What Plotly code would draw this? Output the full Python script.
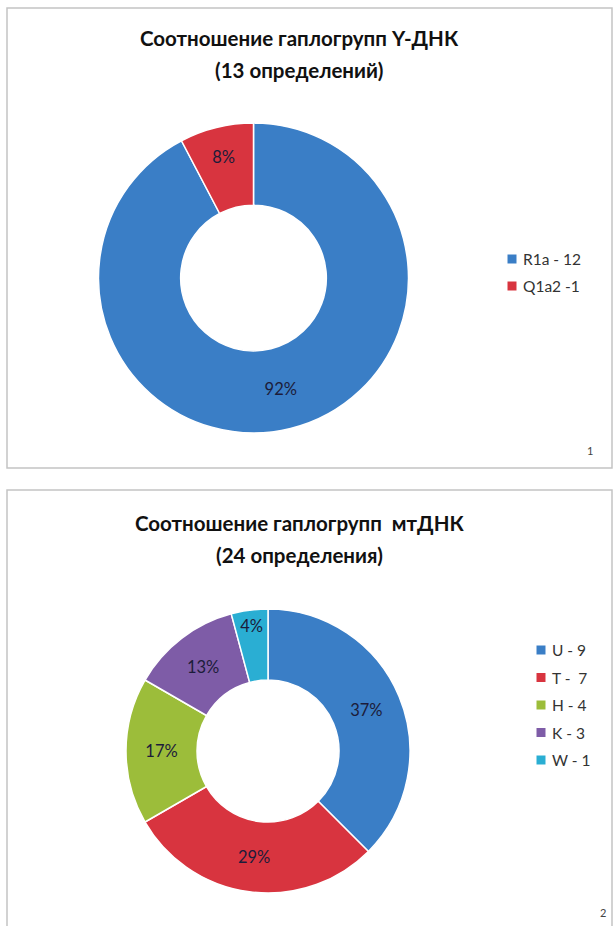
import plotly.graph_objects as go

# Y-DNA haplogroups (13 samples)
y_labels = ["R1a - 12", "Q1a2 -1"]
y_counts = [12, 1]
y_pct_text = ["92%", "8%"]
y_colors = ["#3A7EC6", "#D8343F"]

# mtDNA haplogroups (24 samples)
mt_labels = ["U - 9", "T -  7", "H - 4", "K - 3", "W - 1"]
mt_counts = [9, 7, 4, 3, 1]
mt_pct_text = ["37%", "29%", "17%", "13%", "4%"]
mt_colors = ["#3A7EC6", "#D8343F", "#9CBD3A", "#7E5CA7", "#2AAED3"]

y_title = ["Соотношение гаплогрупп Y-ДНК", "(13 определений)"]
mt_title = ["Соотношение гаплогрупп  мтДНК", "(24 определения)"]

W, H = 615, 926
FONT = "Lato, 'Open Sans', sans-serif"


def px_x(v):
    return v / W


def px_y(v):
    return 1 - v / H


fig = go.Figure()

fig.add_trace(go.Pie(
    labels=y_labels, values=y_counts, text=y_pct_text,
    texttemplate="%{text}", textposition="inside",
    insidetextorientation="horizontal",
    textfont=dict(family=FONT, size=16.5, color="#1C1C3A"),
    marker=dict(colors=y_colors, line=dict(color="white", width=1.5)),
    hole=0.47, sort=False, direction="clockwise", rotation=0,
    domain=dict(x=[px_x(98), px_x(409)], y=[px_y(433), px_y(123)]),
    showlegend=False, hoverinfo="label+percent",
))

fig.add_trace(go.Pie(
    labels=mt_labels, values=mt_counts, text=mt_pct_text,
    texttemplate="%{text}", textposition="inside",
    insidetextorientation="horizontal",
    textfont=dict(family=FONT, size=16.5, color="#1C1C3A"),
    marker=dict(colors=mt_colors, line=dict(color="white", width=1.5)),
    hole=0.5, sort=False, direction="clockwise", rotation=0,
    domain=dict(x=[px_x(126), px_x(410)], y=[px_y(893), px_y(609)]),
    showlegend=False, hoverinfo="label+percent",
))

# panel frames
fig.add_shape(type="rect", xref="paper", yref="paper",
              x0=px_x(7), x1=px_x(612), y0=px_y(468), y1=px_y(8),
              line=dict(color="#C4C4C4", width=1.5))
fig.add_shape(type="rect", xref="paper", yref="paper",
              x0=px_x(7), x1=px_x(612), y0=px_y(935), y1=px_y(490),
              line=dict(color="#C4C4C4", width=1.5))


def add_title(lines, y_first, gap=32):
    for i, line in enumerate(lines):
        fig.add_annotation(text=f"<b>{line}</b>", x=px_x(299), y=px_y(y_first + i * gap),
                           xref="paper", yref="paper", showarrow=False,
                           xanchor="center", yanchor="middle",
                           font=dict(family=FONT, size=20.5, color="#111111"))


def add_legend(labels, colors, x_box, y_first, gap):
    for i, (lab, col) in enumerate(zip(labels, colors)):
        yc = y_first + i * gap
        fig.add_shape(type="rect", xref="paper", yref="paper",
                      x0=px_x(x_box - 4.5), x1=px_x(x_box + 4.5),
                      y0=px_y(yc + 4.5), y1=px_y(yc - 4.5),
                      fillcolor=col, line=dict(width=0))
        fig.add_annotation(text=lab, x=px_x(x_box + 9), y=px_y(yc),
                           xref="paper", yref="paper", showarrow=False,
                           xanchor="left", yanchor="middle",
                           font=dict(family=FONT, size=15.5, color="#333333"))


add_title(y_title, 38)
add_title(mt_title, 523)
add_legend(y_labels, y_colors, 512, 259, 27)
add_legend(mt_labels, mt_colors, 541, 650, 27.5)

for n, (xc, yc) in zip(["1", "2"], [(590, 450), (603, 912)]):
    fig.add_annotation(text=n, x=px_x(xc), y=px_y(yc), xref="paper", yref="paper",
                       showarrow=False, xanchor="center", yanchor="middle",
                       font=dict(family=FONT, size=11, color="#444444"))

fig.update_layout(
    width=W, height=H,
    margin=dict(l=0, r=0, t=0, b=0),
    paper_bgcolor="white", plot_bgcolor="white",
    showlegend=False,
)

fig.write_html("out.html")
